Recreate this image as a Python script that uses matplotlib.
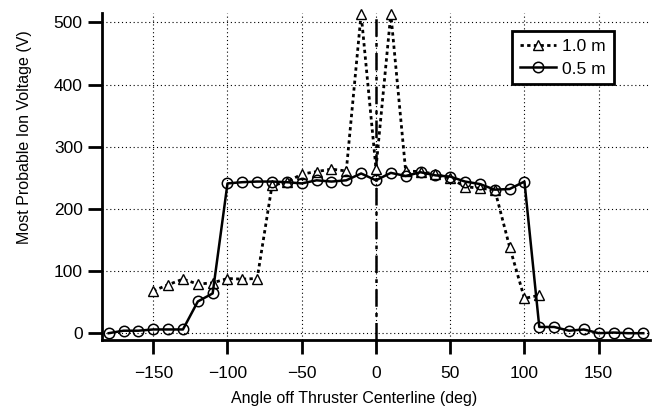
import matplotlib.pyplot as plt
import numpy as np

plt.rcParams['font.family'] = ['Liberation Sans', 'DejaVu Sans']

# 1.0 m probe sweep
angle_10 = [-150, -140, -130, -120, -110, -100, -90, -80, -70, -60, -50, -40, -30, -20,
            -10, 0, 10, 20, 30, 40, 50, 60, 70, 80, 90, 100, 110]
volt_10 = [68, 78, 87, 79, 81, 88, 87, 88, 238, 243, 256, 260, 264, 261,
           514, 265, 514, 261, 260, 256, 249, 236, 233, 231, 139, 56, 61]

# 0.5 m probe sweep
angle_05 = [-180, -170, -160, -150, -140, -130, -120, -110, -100, -90, -80, -70, -60,
            -50, -40, -30, -20, -10, 0, 10, 20, 30, 40, 50, 60, 70, 80, 90, 100,
            110, 120, 130, 140, 150, 160, 170, 180]
volt_05 = [0, 4, 4, 6, 6, 6, 51, 64, 241, 243, 244, 244, 243,
           241, 246, 244, 246, 257, 246, 258, 253, 259, 254, 252, 244, 240, 231, 232, 244,
           10, 10, 4, 6, 0, 1, 0, 0]

fig = plt.figure(figsize=(6.55, 4.11), dpi=100)
ax = fig.add_axes([0.156, 0.173, 0.836, 0.795])

ax.plot(angle_10, volt_10, color='black', lw=2, linestyle=(0, (1.2, 1.2)),
        marker='^', markersize=6.5, markerfacecolor='white', markeredgewidth=1.0,
        label='1.0 m', clip_on=False, zorder=3)
ax.plot(angle_05, volt_05, color='black', lw=1.8, linestyle='-',
        marker='o', markersize=7.5, markerfacecolor='none', markeredgewidth=1.1,
        label='0.5 m', clip_on=False, zorder=4)

# thruster centerline
ax.axvline(0, color='black', lw=1.8, linestyle=(0, (7, 2.5, 1.5, 2.5)), zorder=2)

ax.set_xlim(-184.4, 184.4)
ax.set_ylim(-10.8, 515)
ax.set_xticks(np.arange(-150, 151, 50))
ax.set_yticks(np.arange(0, 501, 100))

ax.grid(True, color='black', lw=0.8, linestyle=(0, (1, 2.5)))
ax.set_axisbelow(True)

for side in ['top', 'right']:
    ax.spines[side].set_visible(False)
for side in ['left', 'bottom']:
    ax.spines[side].set_linewidth(2)

ax.tick_params(axis='y', direction='out', length=10, width=2, labelsize=12.5, pad=4)
ax.tick_params(axis='x', direction='out', length=10, width=2, labelsize=12.5, pad=9)

ax.set_xlabel('Angle off Thruster Centerline (deg)', fontsize=11.5)
ax.set_ylabel('Most Probable Ion Voltage (V)', fontsize=11.5)
ax.xaxis.set_label_coords(0.46, -0.155)
ax.yaxis.set_label_coords(-0.128, 0.622)

leg = ax.legend(loc='upper right', bbox_to_anchor=(0.934, 0.945), borderaxespad=0,
                fontsize=12.5, fancybox=False, framealpha=1, edgecolor='black',
                handlelength=2.1, borderpad=0.45, labelspacing=0.42, handletextpad=0.35)
leg.get_frame().set_linewidth(2)

plt.savefig('out.png', dpi=100)
